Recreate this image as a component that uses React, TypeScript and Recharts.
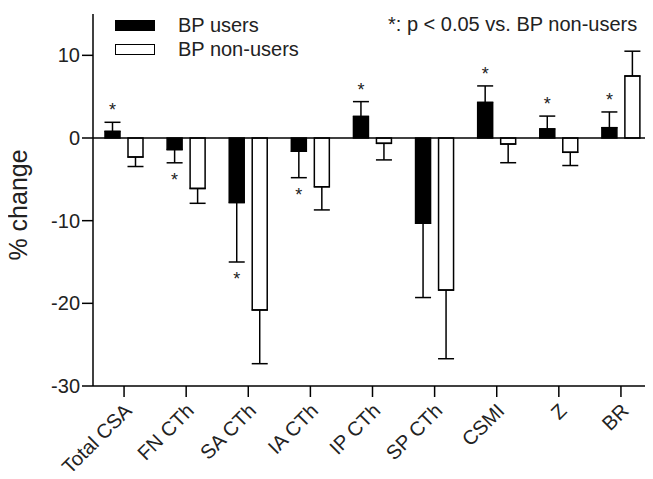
import React from 'react';
import { BarChart, Bar, XAxis, YAxis, ErrorBar, ReferenceLine, LabelList } from 'recharts';

// categories on the x axis
const categories = ['Total CSA', 'FN CTh', 'SA CTh', 'IA CTh', 'IP CTh', 'SP CTh', 'CSMI', 'Z', 'BR'];

// % change, BP users (mean and SE)
const usersMean = [0.8, -1.4, -7.8, -1.6, 2.6, -10.3, 4.3, 1.1, 1.25];
const usersErr = [1.1, 1.6, 7.2, 3.2, 1.8, 9.0, 2.0, 1.55, 1.9];

// % change, BP non-users (mean and SE)
const nonUsersMean = [-2.3, -6.1, -20.8, -5.9, -0.65, -18.4, -0.73, -1.73, 7.5];
const nonUsersErr = [1.15, 1.8, 6.5, 2.8, 2.0, 8.3, 2.26, 1.6, 3.0];

// p < 0.05 vs. non-users
const significant = [true, true, true, true, true, false, true, true, true];

const yTicks = [-30, -20, -10, 0, 10];

const FONT = '"Liberation Sans", Arial, sans-serif';

// error bars are drawn only away from zero
const oneSided = (v: number, e: number) => (v >= 0 ? [0, e] : [e, 0]);

const data = categories.map((name, i) => ({
  name,
  users: usersMean[i],
  usersErr: oneSided(usersMean[i], usersErr[i]),
  nonUsers: nonUsersMean[i],
  nonUsersErr: oneSided(nonUsersMean[i], nonUsersErr[i]),
}));

const AngledTick = (props: any) => {
  const { x, y, payload } = props;
  return (
    <g transform={`translate(${x + 9},${y + 13})`}>
      <text x={0} y={0} textAnchor="end" transform="rotate(-45)" fontSize={20} fontFamily={FONT} fill="#222">
        {payload.value}
      </text>
    </g>
  );
};

// asterisk beyond the end of the error bar
const Star = (props: any) => {
  const vb = props.viewBox || props;
  const i = props.index;
  if (i == null || !significant[i]) return null;
  const v = usersMean[i];
  const { x, y, width, height } = vb;
  const ppu = Math.abs(height / v);
  const top = Math.min(y, y + height);
  const bottom = Math.max(y, y + height);
  const cx = x + width / 2;
  const endY = v >= 0 ? top - usersErr[i] * ppu : bottom + usersErr[i] * ppu;
  const ty = v >= 0 ? endY - 6 : endY + 23;
  return (
    <text x={cx} y={ty} textAnchor="middle" fontSize={18} fontFamily={FONT} fill="#222">
      *
    </text>
  );
};

const legendItems = [
  { label: 'BP users', fill: '#000' },
  { label: 'BP non-users', fill: '#fff' },
];

const App: React.FC = () => {
  return (
    <div style={{ position: 'relative', width: 653, height: 479, margin: -8, background: '#fff' }}>
      <BarChart
        width={653}
        height={479}
        data={data}
        margin={{ top: 14, right: 1, left: 0, bottom: 0 }}
        barSize={15}
        barGap={8}
      >
        <XAxis
          dataKey="name"
          height={93}
          interval={0}
          tick={<AngledTick />}
          tickSize={11}
          axisLine={{ stroke: '#000', strokeWidth: 1.5 }}
          tickLine={{ stroke: '#000', strokeWidth: 1.5 }}
        />
        <YAxis
          width={93}
          domain={[-30, 15]}
          ticks={yTicks}
          allowDataOverflow
          tickSize={11}
          tick={{ fontSize: 20, fontFamily: FONT, fill: '#222' }}
          axisLine={{ stroke: '#000', strokeWidth: 1.5 }}
          tickLine={{ stroke: '#000', strokeWidth: 1.5 }}
          label={{
            value: '% change',
            angle: -90,
            position: 'insideLeft',
            offset: 18,
            dy: 5,
            style: { fontSize: 25, fontFamily: FONT, fill: '#222', textAnchor: 'middle' },
          }}
        />
        <ReferenceLine y={0} stroke="#000" strokeWidth={1.5} />
        <Bar dataKey="users" name="BP users" fill="#000" stroke="#000" strokeWidth={1.5} isAnimationActive={false}>
          <ErrorBar dataKey="usersErr" width={8} stroke="#000" strokeWidth={1.5} direction="y" />
          <LabelList dataKey="users" content={<Star />} />
        </Bar>
        <Bar dataKey="nonUsers" name="BP non-users" fill="#fff" stroke="#000" strokeWidth={1.5} isAnimationActive={false}>
          <ErrorBar dataKey="nonUsersErr" width={8} stroke="#000" strokeWidth={1.5} direction="y" />
        </Bar>
      </BarChart>
      <div
        style={{
          position: 'absolute',
          left: 115,
          top: 13,
          fontFamily: FONT,
          fontSize: 20,
          color: '#222',
          lineHeight: '24px',
        }}
      >
        {legendItems.map((it) => (
          <div key={it.label} style={{ display: 'flex', alignItems: 'center' }}>
            <span
              style={{
                display: 'inline-block',
                width: 38,
                height: 9,
                background: it.fill,
                border: '1.5px solid #000',
                marginRight: 23,
              }}
            />
            <span>{it.label}</span>
          </div>
        ))}
      </div>
      <div
        style={{
          position: 'absolute',
          left: 388,
          top: 13,
          fontFamily: FONT,
          fontSize: 20,
          color: '#222',
          whiteSpace: 'nowrap',
        }}
      >
        *: p &lt; 0.05 vs. BP non-users
      </div>
    </div>
  );
};

export default App;
